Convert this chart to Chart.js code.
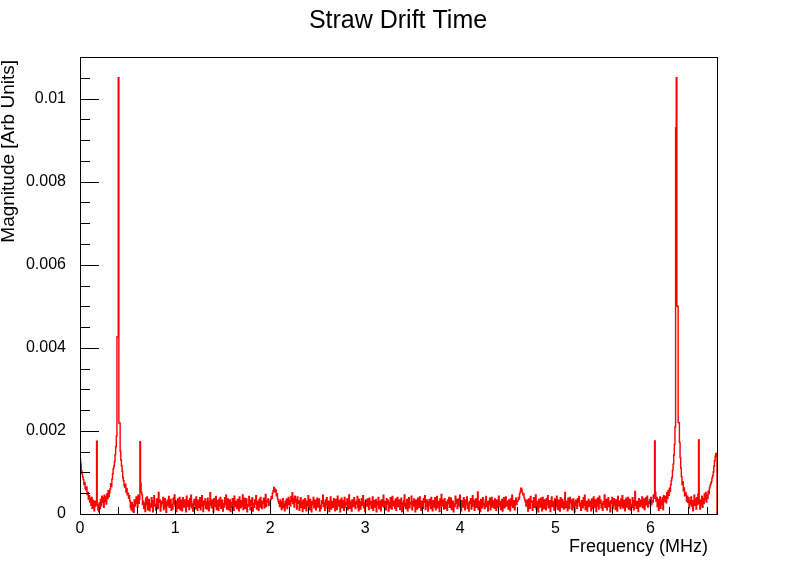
<!DOCTYPE html>
<html>
<head>
<meta charset="utf-8">
<title>Straw Drift Time</title>
<script src="https://cdn.jsdelivr.net/npm/chart.js@4.4.1/dist/chart.umd.min.js"></script>
<style>
html, body { margin: 0; padding: 0; background: #fff; }
#wrap { width: 796px; height: 572px; }
</style>
</head>
<body>
<div id="wrap"><canvas id="fft" width="796" height="572"></canvas></div>
<script>
// histogram range in MHz
var xMin = 0;
var xMax = 6.7;
var yMax = 0.011;

// bin contents, in units of 1e-4 (Arb Units), left to right

// 0 - 0.67 MHz: low edge, 0.18 spike, main line at 0.41, 0.64 spike
var edgeLow = [
  14.6, 13.2, 12.1, 10.4, 9.6, 8.9, 8.3, 7.1, 7.6, 6.2,
  5.8, 6.5, 4.7, 5.2, 3.6, 4.4, 2.9, 3.8, 2.1, 4.0,
  1.4, 3.3, 2.6, 0.8, 3.1, 1.9, 2.4, 17.5, 2.2, 1.0,
  0.5, 2.7, 1.3, 3.5, 2.0, 4.3, 2.8, 3.9, 1.6, 4.5,
  3.0, 4.1, 2.4, 4.8, 3.7, 5.6, 4.2, 5.1, 6.0, 7.3,
  6.6, 8.4, 9.7, 10.9, 11.5, 12.6, 14.3, 16.2, 18.8, 42.6,
  42.6, 105, 21.9, 21.9, 15.1, 13.0, 11.6, 10.3, 8.8, 8.0,
  6.9, 6.4, 7.2, 5.3, 6.1, 4.6, 5.0, 3.8, 4.4, 3.2,
  1.6, 1.1, 2.8, 0.7, 2.2, 0.4, 3.4, 1.9, 2.5, 4.1,
  3.0, 1.7, 4.5, 2.6, 3.6, 17.4, 7.4, 5.2, 4.6, 2.3
];

// 0.67 - 2.0 MHz
var noiseA = [
  3.1, 1.4, 2.6, 0.6, 3.8, 2.2, 4.1, 1.0, 2.9, 3.5, 0.8, 2.4, 1.7, 3.9, 2.7, 0.5, 3.2, 4.4, 1.9, 2.3,
  0.9, 3.6, 2.1, 1.3, 5.2, 2.8, 3.4, 0.7, 1.8, 3.0, 2.5, 4.0, 1.1, 2.6, 3.7, 1.5, 0.4, 2.9, 3.3, 2.0,
  4.2, 1.6, 2.7, 3.5, 0.9, 2.3, 1.2, 3.8, 2.4, 4.6, 1.9, 3.1, 0.6, 2.8, 3.6, 1.4, 2.2, 4.0, 1.0, 3.3,
  2.5, 0.8, 3.9, 2.1, 1.7, 3.4, 2.9, 0.5, 4.3, 1.8, 2.6, 3.2, 1.1, 3.7, 2.0, 4.5, 1.5, 2.4, 0.7, 3.0,
  3.5, 2.2, 1.3, 4.1, 2.7, 0.9, 3.3, 1.6, 2.8, 3.9, 1.0, 2.5, 4.4, 1.9, 0.6, 3.1, 2.3, 3.6, 1.4, 2.9,
  1.2, 3.8, 2.4, 0.8, 3.0, 5.1, 2.1, 1.5, 3.4, 2.6, 0.5, 3.7, 1.8, 2.2, 4.2, 1.1, 3.2, 2.7, 0.9, 3.5,
  2.0, 4.0, 1.4, 2.8, 3.3, 0.7, 2.5, 1.7, 3.9, 2.3, 4.5, 1.2, 2.9, 3.6, 1.0, 2.1, 3.4, 0.6, 2.7, 1.6,
  3.7, 2.4, 0.9, 4.3, 1.8, 3.0, 2.2, 1.3, 3.5, 2.8, 0.8, 4.1, 2.6, 1.5, 3.2, 2.0, 4.6, 1.1, 2.5, 3.8,
  1.4, 2.9, 3.6, 0.5, 2.3, 1.9, 4.2, 2.7, 1.0, 3.3, 2.1, 3.9, 0.7, 2.6, 1.6, 3.4, 2.4, 4.4, 1.2, 3.0,
  2.8, 0.9, 3.5, 1.7, 4.0, 2.2, 1.3, 3.1, 2.6, 3.8, 1.5, 2.4, 4.7, 1.8, 3.2, 2.9, 3.6, 2.1, 3.0, 2.7
];

// small bump near 2.05 MHz
var bumpA = [3.5, 4.2, 3.8, 5.0, 5.6, 6.4, 6.1, 5.3, 5.8, 4.4, 4.9, 3.6, 3.0];

// 2.1 - 4.6 MHz
var noiseB = [
  2.6, 1.8, 3.4, 2.2, 1.1, 2.9, 3.7, 1.5, 2.4, 0.8, 3.1, 2.0, 3.6, 1.3, 2.7, 4.0, 2.3, 3.3, 1.9, 4.2,
  3.0, 5.1, 2.5, 3.8, 1.7, 4.3, 2.8, 3.5, 1.2, 4.1, 2.6, 3.2, 0.9, 2.4, 3.9, 1.6, 2.9, 0.6, 3.4, 2.1,
  1.4, 3.7, 2.7, 0.8, 3.1, 1.9, 4.4, 2.3, 1.1, 3.5, 2.8, 0.5, 3.0, 2.2, 4.0, 1.5, 2.6, 3.3, 1.0, 2.4,
  3.8, 1.7, 2.9, 3.6, 0.7, 2.1, 1.3, 3.2, 2.5, 4.5, 1.8, 2.7, 0.9, 3.4, 2.0, 3.9, 1.4, 2.3, 3.1, 0.6,
  2.8, 4.1, 1.2, 3.0, 2.4, 1.6, 3.7, 2.2, 0.8, 3.5, 2.9, 1.1, 4.3, 2.6, 1.9, 3.3, 0.5, 2.1, 3.8, 1.5,
  2.5, 3.2, 0.9, 4.0, 1.7, 2.8, 2.3, 3.6, 1.0, 2.7, 4.6, 1.4, 3.1, 2.0, 0.7, 3.4, 2.6, 1.8, 3.9, 2.2,
  1.3, 3.0, 2.4, 4.2, 1.6, 0.8, 3.5, 2.9, 1.2, 2.5, 3.7, 2.1, 4.4, 1.5, 2.8, 0.6, 3.3, 2.0, 1.9, 3.6,
  2.7, 1.1, 3.8, 2.3, 3.0, 1.4, 2.6, 4.1, 0.9, 3.2, 1.7, 2.4, 3.5, 0.5, 2.9, 2.2, 4.0, 1.3, 3.1, 2.5,
  0.8, 3.4, 1.9, 2.7, 4.5, 1.6, 3.0, 2.1, 1.0, 3.7, 2.4, 3.3, 0.7, 2.8, 1.5, 3.9, 2.6, 1.2, 4.2, 2.0,
  3.1, 2.3, 1.4, 3.6, 0.9, 2.5, 4.0, 1.8, 2.9, 3.4, 1.1, 2.2, 3.8, 0.6, 2.7, 1.7, 3.2, 4.6, 2.0, 1.3,
  2.6, 3.5, 0.8, 2.1, 3.9, 1.5, 2.8, 2.4, 4.3, 1.0, 3.0, 1.9, 3.6, 2.3, 0.5, 3.3, 2.7, 1.2, 3.8, 2.0,
  1.6, 4.1, 2.5, 0.9, 3.1, 2.2, 1.4, 3.7, 2.8, 4.4, 1.1, 2.6, 3.4, 1.8, 0.7, 2.9, 3.5, 2.1, 1.3, 4.0,
  2.4, 0.8, 3.2, 1.7, 2.7, 3.9, 1.0, 2.3, 4.2, 1.5, 3.0, 2.6, 0.6, 3.6, 2.0, 4.7, 1.9, 2.8, 3.3, 1.2,
  3.7, 2.1, 1.4, 2.9, 0.9, 3.4, 2.5, 4.0, 1.6, 2.2, 3.8, 1.1, 2.7, 3.1, 0.5, 2.4, 1.8, 4.3, 2.6, 3.5,
  1.3, 2.8, 3.6, 2.0, 4.5, 1.5, 0.8, 3.2, 2.3, 1.7, 3.9, 2.9, 1.0, 3.4, 2.2, 4.1, 1.4, 2.6, 0.7, 3.0,
  2.5, 3.7, 1.2, 2.1, 4.4, 1.9, 3.3, 0.9, 2.7, 3.6, 1.6, 2.4, 5.3, 1.1, 3.0, 2.2, 0.6, 3.5, 2.8, 1.5,
  3.9, 2.0, 2.6, 1.3, 3.4, 4.2, 1.8, 2.9, 0.8, 3.1, 2.3, 3.8, 1.0, 2.5, 4.0, 1.7, 3.2, 2.1, 1.4, 3.6,
  2.7, 0.9, 3.3, 2.4, 1.6, 4.3, 2.0, 3.0, 1.1, 2.8, 3.5, 0.7, 2.2, 3.9, 1.5, 2.6, 4.1, 1.9, 3.1, 2.4,
  1.2, 3.4, 2.9, 0.8, 3.7, 2.1, 4.5, 1.6, 2.5, 3.2, 1.0, 2.7, 3.8, 2.3, 3.0
];

// small bump near 4.65 MHz
var bumpB = [3.2, 4.0, 3.6, 4.9, 5.5, 6.2, 5.9, 5.2, 4.6, 4.8, 3.9, 3.4, 2.8];

// 4.7 - 6.0 MHz
var noiseC = [
  1.9, 3.3, 2.4, 0.7, 3.6, 2.0, 1.4, 4.2, 2.8, 3.1, 0.9, 2.5, 3.9, 1.6, 2.2, 4.6, 1.2, 3.0, 2.7, 0.5,
  3.5, 2.1, 1.7, 3.8, 2.6, 0.8, 4.0, 2.3, 1.3, 3.4, 2.9, 1.0, 3.7, 2.2, 4.4, 1.5, 2.8, 3.2, 0.6, 2.4,
  4.1, 1.8, 3.0, 2.5, 0.9, 3.6, 1.4, 2.7, 4.3, 2.0, 1.1, 3.3, 2.6, 0.7, 3.9, 2.2, 1.6, 3.5, 2.9, 1.2,
  2.3, 5.2, 1.5, 3.1, 2.4, 0.8, 3.8, 2.0, 1.3, 4.0, 2.7, 3.4, 1.0, 2.5, 3.6, 1.7, 0.5, 2.9, 3.3, 2.1,
  1.4, 3.7, 2.8, 4.2, 1.9, 2.6, 0.9, 3.2, 2.3, 1.5, 3.9, 2.1, 4.5, 1.1, 2.7, 3.0, 0.7, 2.4, 3.5, 1.8,
  3.1, 2.2, 0.8, 3.6, 2.9, 1.3, 4.1, 2.5, 1.7, 3.4, 0.6, 2.8, 3.8, 2.0, 1.2, 4.3, 2.6, 3.3, 1.5, 2.4,
  0.9, 3.0, 2.3, 4.6, 1.6, 2.7, 3.5, 1.0, 2.2, 3.9, 1.8, 2.9, 0.5, 3.2, 2.5, 4.0, 1.4, 2.1, 3.7, 2.8,
  1.1, 3.4, 2.6, 0.7, 4.2, 1.9, 3.1, 2.4, 1.3, 3.6, 2.0, 4.4, 1.5, 2.8, 3.3, 0.8, 2.5, 3.8, 1.7, 2.2,
  4.0, 1.2, 2.9, 3.5, 0.9, 2.3, 1.6, 3.9, 2.7, 1.0, 3.2, 5.4, 2.1, 1.4, 3.0, 2.6, 0.6, 3.7, 2.4, 1.8,
  3.3, 2.0, 4.1, 1.5, 2.8, 3.6, 1.1, 2.5, 3.9, 2.2, 4.3, 1.7, 3.0, 2.6, 3.5, 1.9, 4.0, 2.4, 3.2
];

// 6.0 - 6.7 MHz: 6.04 spike, mirror line at 6.28, 6.49 spike, high edge
var edgeHigh = [
  2.9, 4.6, 3.8, 17.6, 5.2, 3.1, 4.0, 1.8, 3.5, 0.9,
  2.6, 4.1, 1.4, 3.3, 2.2, 3.9, 1.1, 4.4, 3.0, 3.6,
  4.2, 2.7, 5.1, 3.8, 5.6, 4.5, 6.2, 5.4, 7.0, 8.1,
  8.8, 10.5, 12.0, 14.2, 16.8, 21.0, 93, 105, 50, 50,
  22, 22, 17.2, 13.5, 11.0, 9.0, 7.1, 7.8, 5.6, 6.3,
  4.4, 5.2, 4.9, 3.1, 4.3, 2.8, 3.9, 1.5, 3.3, 2.4,
  4.1, 1.9, 3.2, 0.8, 2.7, 4.5, 2.1, 3.6, 1.2, 3.9,
  2.3, 4.8, 17.8, 2.6, 1.2, 3.4, 2.0, 4.3, 1.6, 3.7,
  2.5, 4.8, 3.5, 5.2, 2.9, 4.6, 3.8, 5.5, 4.9, 6.3,
  6.9, 7.4, 7.8, 8.7, 9.2, 10.1, 11.5, 12.8, 13.9, 14.6
];

// axis ticks (ROOT style: primary + secondary divisions)
var xMajorTicks = [0, 1, 2, 3, 4, 5, 6];
var xMinorStep = 0.2;
var yMajorTicks = [0, 0.002, 0.004, 0.006, 0.008, 0.01];
var yMinorStep = 0.0005;

var titleText = 'Straw Drift Time';
var xTitle = 'Frequency (MHz)';
var yTitle = 'Magnitude [Arb Units]';

var fontFamily = '"Liberation Sans", Arial, Helvetica, sans-serif';

// build the step outline of the histogram
var magnitudeE4 = [].concat(edgeLow, noiseA, bumpA, noiseB, bumpB, noiseC, edgeHigh);
var binWidth = (xMax - xMin) / magnitudeE4.length;
var histPoints = [{x: xMin, y: 0}];
magnitudeE4.forEach(function(m, k) {
    histPoints.push({x: xMin + k * binWidth, y: m * 1e-4});
});
histPoints.push({x: xMax, y: magnitudeE4[magnitudeE4.length - 1] * 1e-4});
histPoints.push({x: xMax, y: 0});

// frame, inward ticks and titles like a ROOT canvas
var rootFrame = {
    id: 'rootFrame',
    afterDraw: function(chart) {
        var ctx = chart.ctx;
        var a = chart.chartArea;
        var xs = chart.scales.x;
        var ys = chart.scales.y;
        ctx.save();
        ctx.strokeStyle = '#000';
        ctx.lineWidth = 1;
        ctx.strokeRect(Math.round(a.left) + 0.5, Math.round(a.top) + 0.5,
                       Math.round(a.right - a.left), Math.round(a.bottom - a.top));

        ctx.beginPath();
        var i, v, p, len;
        for (i = 0; xMin + i * xMinorStep < xMax; i++) {
            v = xMin + i * xMinorStep;
            p = Math.round(xs.getPixelForValue(v)) + 0.5;
            len = (i % 5 === 0) ? 14 : 7;
            ctx.moveTo(p, a.bottom);
            ctx.lineTo(p, a.bottom - len);
        }
        for (i = 0; i * yMinorStep < yMax; i++) {
            v = i * yMinorStep;
            p = Math.round(ys.getPixelForValue(v)) + 0.5;
            len = (i % 4 === 0) ? 19 : 10;
            ctx.moveTo(a.left, p);
            ctx.lineTo(a.left + len, p);
        }
        ctx.stroke();

        ctx.fillStyle = '#000';
        ctx.font = '25px ' + fontFamily;
        ctx.textAlign = 'center';
        ctx.textBaseline = 'middle';
        ctx.fillText(titleText, 398, 21);

        ctx.font = '18px ' + fontFamily;
        ctx.textAlign = 'right';
        ctx.textBaseline = 'alphabetic';
        ctx.fillText(xTitle, 708, 552);

        ctx.font = '19px ' + fontFamily;
        ctx.translate(14, a.top + 3);
        ctx.rotate(-Math.PI / 2);
        ctx.textAlign = 'right';
        ctx.fillText(yTitle, 0, 0);
        ctx.restore();
    }
};

new Chart(document.getElementById('fft').getContext('2d'), {
    type: 'line',
    data: {
        datasets: [{
            label: 'FFT',
            data: histPoints,
            stepped: 'after',
            borderColor: '#ff0000',
            borderWidth: 1.4,
            pointRadius: 0,
            fill: false
        }]
    },
    options: {
        responsive: false,
        animation: false,
        layout: { padding: { left: 0, right: 79, top: 57, bottom: 0 } },
        plugins: {
            legend: { display: false },
            tooltip: { enabled: false },
            title: { display: false }
        },
        scales: {
            x: {
                type: 'linear',
                min: xMin,
                max: xMax,
                grid: { display: false, drawTicks: false },
                border: { display: false },
                ticks: {
                    stepSize: 1,
                    includeBounds: false,
                    autoSkip: false,
                    maxRotation: 0,
                    color: '#000',
                    padding: 5,
                    font: { family: fontFamily, size: 16 },
                    callback: function(v) {
                        return xMajorTicks.indexOf(v) >= 0 ? String(v) : '';
                    }
                },
                afterFit: function(scale) { scale.height = 58; }
            },
            y: {
                type: 'linear',
                min: 0,
                max: yMax,
                grid: { display: false, drawTicks: false },
                border: { display: false },
                ticks: {
                    stepSize: 0.002,
                    includeBounds: false,
                    color: '#000',
                    padding: 14,
                    font: { family: fontFamily, size: 16 },
                    callback: function(v) {
                        var r = +v.toFixed(4);
                        return yMajorTicks.indexOf(r) >= 0 ? String(r) : '';
                    }
                },
                afterFit: function(scale) { scale.width = 80; }
            }
        }
    },
    plugins: [rootFrame]
});
</script>
</body>
</html>
